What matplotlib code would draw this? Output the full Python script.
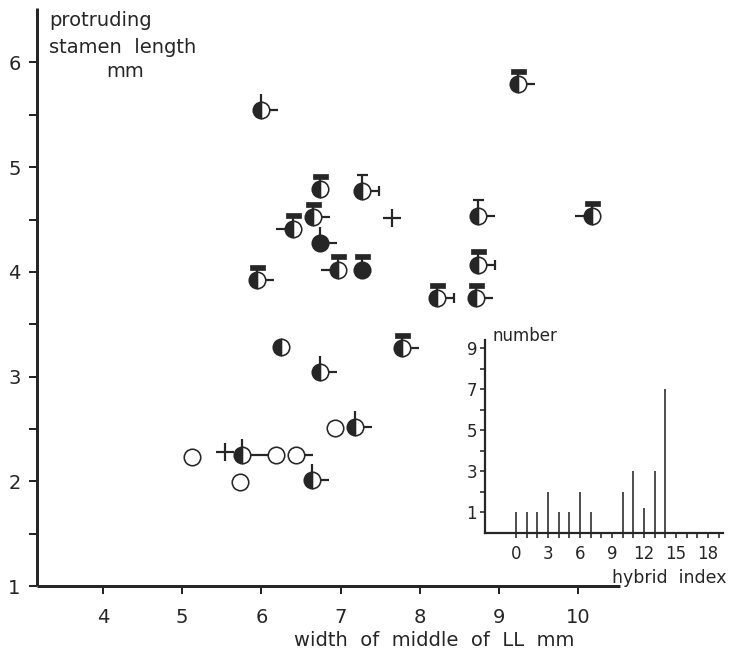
import matplotlib
matplotlib.use("Agg")
import matplotlib.pyplot as plt
from matplotlib.transforms import ScaledTranslation
from matplotlib.path import Path
from matplotlib.markers import TICKRIGHT, TICKLEFT, TICKUP

# ---------------- data ----------------
width_ll = [6.00, 9.24, 6.74, 7.27, 6.65, 6.40, 6.74, 6.97, 7.27, 5.95, 8.74, 10.18, 8.74,
            8.22, 8.71, 6.25, 7.78, 6.74, 5.76, 6.64, 7.18, 5.12, 6.19, 6.44, 5.73, 6.93]
stamen_len = [5.55, 5.79, 4.79, 4.77, 4.52, 4.41, 4.28, 4.02, 4.02, 3.92, 4.53, 4.53, 4.07,
              3.75, 3.75, 3.28, 3.27, 3.04, 2.25, 2.01, 2.52, 2.23, 2.25, 2.25, 1.99, 2.51]
fill_kind = ['half', 'half', 'half', 'half', 'half', 'half', 'full', 'half', 'full', 'half', 'half', 'half', 'half',
             'half', 'half', 'half', 'half', 'half', 'half', 'half', 'half', 'open', 'open', 'open', 'open', 'open']
top_kind = ['tick', 'bar', 'bar', 'T', 'bar', 'bar', 'tick', 'bar', 'bar', 'bar', 'T', 'bar', 'bar',
            'bar', 'bar', 'none', 'bar', 'tick', 'tick', 'tick', 'tick', 'none', 'none', 'none', 'none', 'none']
side_kind = ['right', 'right', 'none', 'rightT', 'right', 'left', 'right', 'left', 'none', 'right', 'right', 'left', 'rightT',
             'rightT', 'right', 'none', 'right', 'right', 'right', 'right', 'right', 'none', 'left', 'right', 'none', 'none']
cross_x = [7.65, 5.54]
cross_y = [4.51, 2.28]

x_ticks = [4, 5, 6, 7, 8, 9, 10]
y_ticks = [1, 2, 3, 4, 5, 6]

hybrid_index = [0, 1, 2, 3, 4, 5, 6, 7, 10, 11, 12, 13, 14]
hybrid_count = [1, 1, 1, 2, 1, 1, 2, 1, 2, 3, 1.2, 3, 7]
inset_xticks = [0, 3, 6, 9, 12, 15, 18]
inset_yticks = [1, 3, 5, 7, 9]

# ---------------- style ----------------
INK = '#262626'
W, H, DPI = 731, 657, 100
PT = 72.0 / DPI  # points per pixel
plt.rcParams['font.family'] = ['DejaVu Sans']

fig = plt.figure(figsize=(W / DPI, H / DPI), dpi=DPI)
fig.patch.set_facecolor('white')

def fx(px):
    return px / W

def fy(py):
    return 1 - py / H

ax = fig.add_axes([fx(37), fy(586), fx(620) - fx(37), fy(8) - fy(586)])
ax.set_xlim(3.166, 10.53)
ax.set_ylim(1.0, 6.52)
for s in ['top', 'right']:
    ax.spines[s].set_visible(False)
for s in ['left', 'bottom']:
    ax.spines[s].set_linewidth(3 * PT)
    ax.spines[s].set_color(INK)
    ax.spines[s].set_capstyle('butt')
ax.set_xticks(x_ticks)
ax.set_yticks(y_ticks)
ax.set_yticks([v + 0.5 for v in y_ticks[:-1]], minor=True)
ax.tick_params(axis='both', which='both', direction='out', color=INK, width=2 * PT,
               length=8 * PT, labelsize=14, labelcolor=INK)
ax.tick_params(axis='x', pad=10)
ax.tick_params(axis='y', pad=6)
ax.set_facecolor('none')

def off(dx_px, dy_px):
    return ax.transData + ScaledTranslation(dx_px / DPI, dy_px / DPI, fig.dpi_scale_trans)

def sel(cond):
    xs = [x for x, c in zip(width_ll, cond) if c]
    ys = [y for y, c in zip(stamen_len, cond) if c]
    return xs, ys

LW = 2.2 * PT
common = dict(ls='none', color=INK, mec=INK, mew=LW, zorder=2, clip_on=False)

# side decorations
xs, ys = sel([k in ('right', 'rightT') for k in side_kind])
ax.plot(xs, ys, marker=TICKRIGHT, ms=17 * PT, **common)
xs, ys = sel([k == 'left' for k in side_kind])
ax.plot(xs, ys, marker=TICKLEFT, ms=17 * PT, **common)
xs, ys = sel([k == 'rightT' for k in side_kind])
ax.plot(xs, ys, marker='|', ms=10 * PT, transform=off(17, 0), **common)

# top decorations
xs, ys = sel([k in ('tick', 'T') for k in top_kind])
ax.plot(xs, ys, marker=TICKUP, ms=16 * PT, **common)
xs, ys = sel([k == 'bar' for k in top_kind])
ax.plot(xs, ys, marker=TICKUP, ms=12 * PT, **common)
rect = Path([(-1.5, -0.5), (1.5, -0.5), (1.5, 0.5), (-1.5, 0.5), (-1.5, -0.5)], closed=True)
ax.plot(xs, ys, marker=rect, ms=15 * PT, ls='none', mfc=INK, mec=INK, mew=0.5,
        transform=off(0, 13.5), zorder=2, clip_on=False)
xs, ys = sel([k == 'T' for k in top_kind])
ax.plot(xs, ys, marker='_', ms=11 * PT, transform=off(0, 16), **common)

# circles
CS = 16.5 * PT
CE = 1.6 * PT
xs, ys = sel([k == 'half' for k in fill_kind])
ax.plot(xs, ys, ls='none', marker='o', ms=CS, fillstyle='left', mfc=INK, mfcalt='white',
        mec=INK, mew=CE, zorder=3, clip_on=False)
xs, ys = sel([k == 'full' for k in fill_kind])
ax.plot(xs, ys, ls='none', marker='o', ms=CS, mfc=INK, mec=INK, mew=CE, zorder=3, clip_on=False)
xs, ys = sel([k == 'open' for k in fill_kind])
ax.plot(xs, ys, ls='none', marker='o', ms=CS, mfc='white', mec=INK, mew=CE, zorder=3, clip_on=False)

# crosses
ax.plot(cross_x, cross_y, ls='none', marker='+', ms=18 * PT, mew=LW, color=INK, zorder=3)

# axis labels
fig.text(fx(49), fy(26), 'protruding', fontsize=14, color=INK, ha='left', va='baseline')
fig.text(fx(49), fy(53), 'stamen  length', fontsize=14, color=INK, ha='left', va='baseline')
fig.text(fx(106), fy(77), 'mm', fontsize=14, color=INK, ha='left', va='baseline')
fig.text(fx(434), fy(646), 'width  of  middle  of  LL  mm', fontsize=14, color=INK,
         ha='center', va='baseline')

# ---------------- inset ----------------
ia = fig.add_axes([fx(485), fy(533), fx(723) - fx(485), fy(340) - fy(533)])
ia.set_facecolor('none')
ia.set_xlim(-2.9, 19.4)
ia.set_ylim(0, 9.4)
for s in ['top', 'right']:
    ia.spines[s].set_visible(False)
for s in ['left', 'bottom']:
    ia.spines[s].set_linewidth(2.2 * PT)
    ia.spines[s].set_color(INK)
ia.vlines(hybrid_index, 0, hybrid_count, color=INK, lw=1.6 * PT)
ia.set_xticks(inset_xticks)
ia.set_xticks([v for v in range(0, 20) if v not in inset_xticks], minor=True)
ia.set_yticks(inset_yticks)
ia.set_yticks([2, 4, 6, 8], minor=True)
ia.tick_params(axis='both', which='both', direction='out', color=INK, width=1.6 * PT,
               length=5 * PT, labelsize=12, labelcolor=INK)
ia.tick_params(axis='x', pad=5)
ia.tick_params(axis='y', pad=2)
fig.text(fx(492), fy(341), 'number', fontsize=12, color=INK, ha='left', va='baseline')
fig.text(fx(727), fy(583), 'hybrid  index', fontsize=12.5, color=INK, ha='right', va='baseline')

fig.savefig('out.png', dpi=DPI, facecolor='white')
